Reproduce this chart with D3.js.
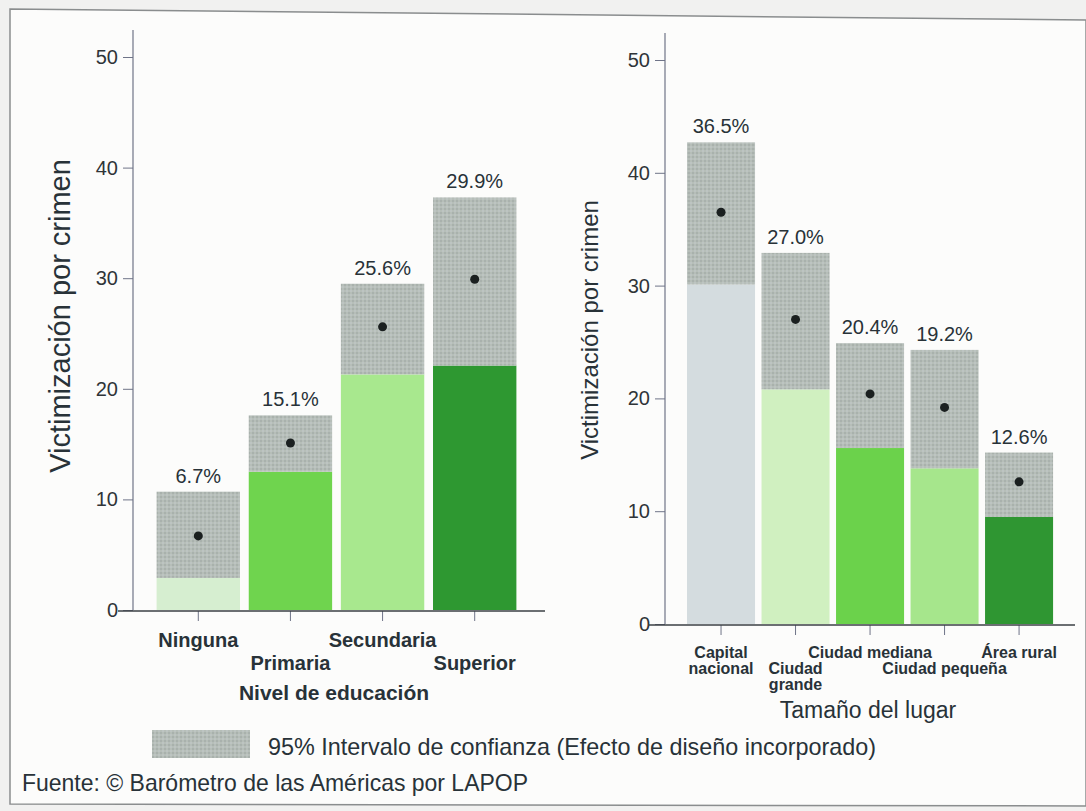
<html><head>
<title>Victimización por crimen</title>
<script src="https://d3js.org/d3.v7.min.js"></script>
<style>
  body { margin: 0; background: #f1f1f0; }
  text { font-family: "Liberation Sans", Arial, sans-serif; fill: #283238; }
  .narrow { font-family: "Liberation Sans Narrow", "Arial Narrow", "Liberation Sans", sans-serif; }
  .axis path, .axis line { stroke: #6f7488; }
  .axis text { font-size: 20px; fill: #2f3438; }
</style>
</head>
<body>
<svg id="chart" width="1086" height="811"></svg>
<script>
  // ---- data ----
  const yTicks = [0, 10, 20, 30, 40, 50];

  const eduCats  = ["Ninguna", "Primaria", "Secundaria", "Superior"];
  const eduMean  = [6.7, 15.1, 25.6, 29.9];
  const eduLow   = [2.9, 12.5, 21.3, 22.1];
  const eduHigh  = [10.7, 17.6, 29.5, 37.3];
  const eduColors = ["#d6eed0", "#6fd44e", "#a8e88e", "#2e9831"];

  const placeCats  = ["Capital nacional", "Ciudad grande", "Ciudad mediana", "Ciudad pequeña", "Área rural"];
  const placeMean  = [36.5, 27.0, 20.4, 19.2, 12.6];
  const placeLow   = [30.1, 20.8, 15.6, 13.8, 9.5];
  const placeHigh  = [42.7, 32.9, 24.9, 24.3, 15.2];
  const placeColors = ["#d4dcdf", "#d0f0c0", "#6bd24b", "#a6e68c", "#2f9632"];

  const svg = d3.select("svg#chart");

  // hatched grey used for the confidence interval
  const defs = svg.append("defs");
  const pat = defs.append("pattern").attr("id", "ci")
      .attr("width", 4).attr("height", 4).attr("patternUnits", "userSpaceOnUse");
  pat.append("rect").attr("width", 4).attr("height", 4).attr("fill", "#b6beb8");
  pat.append("rect").attr("width", 2).attr("height", 2).attr("fill", "#a9b1ad");
  pat.append("rect").attr("x", 2).attr("y", 2).attr("width", 2).attr("height", 2).attr("fill", "#bdc4c2");

  // page frame (scan is a bit tilted)
  svg.append("path")
    .attr("d", "M1086,20 L10,9 L10,804 L1086,806 Z")
    .attr("fill", "#fcfcfb")
    .attr("stroke", "#8a8d8e").attr("stroke-width", 1.5);

  const drawPanel = (cfg) => {
    const y = d3.scaleLinear().domain([0, 50]).range([cfg.y0, cfg.y50]);
    const x = d3.scaleBand().domain(cfg.cats).range(cfg.xRange)
        .paddingInner(cfg.padIn).paddingOuter(cfg.padOut);

    const g = svg.append("g");

    // y axis
    const yAxis = d3.axisLeft(y).tickValues(yTicks).tickSize(10).tickPadding(5).tickSizeOuter(0);
    g.append("g").attr("class", "axis")
      .attr("transform", "translate(" + cfg.axisX + ",0)")
      .call(yAxis)
      .call(a => a.select(".domain").remove());
    g.append("line")
      .attr("x1", cfg.axisX).attr("x2", cfg.axisX)
      .attr("y1", cfg.y0).attr("y2", cfg.axisTop)
      .attr("stroke", "#6f7488").attr("stroke-width", 1.2);

    // bars: coloured lower part, hatched CI on top
    cfg.cats.forEach((c, i) => {
      g.append("rect")
        .attr("x", x(c)).attr("width", x.bandwidth())
        .attr("y", y(cfg.low[i])).attr("height", y(0) - y(cfg.low[i]))
        .attr("fill", cfg.colors[i]);
      g.append("rect")
        .attr("x", x(c)).attr("width", x.bandwidth())
        .attr("y", y(cfg.high[i])).attr("height", y(cfg.low[i]) - y(cfg.high[i]))
        .attr("fill", "url(#ci)");
      g.append("circle")
        .attr("cx", x(c) + x.bandwidth() / 2).attr("cy", y(cfg.mean[i]))
        .attr("r", 4.5).attr("fill", "#1b2020");
      g.append("text")
        .attr("x", x(c) + x.bandwidth() / 2).attr("y", y(cfg.high[i]) - 9)
        .attr("text-anchor", "middle").attr("font-size", 20)
        .text(cfg.mean[i].toFixed(1) + "%");
    });

    // x axis
    const xAxis = d3.axisBottom(x).tickSize(10).tickFormat("").tickSizeOuter(0);
    g.append("g").attr("class", "axis")
      .attr("transform", "translate(0," + (cfg.y0 + 1) + ")")
      .call(xAxis)
      .call(a => a.select(".domain").remove());
    g.append("line")
      .attr("x1", cfg.xLine[0]).attr("x2", cfg.xLine[1])
      .attr("y1", cfg.y0 + 1).attr("y2", cfg.y0 + 1)
      .attr("stroke", "#3b4145").attr("stroke-width", 1.3);

    // category labels, staggered
    cfg.cats.forEach((c, i) => {
      cfg.lines[i].forEach((ln, k) => {
        g.append("text")
          .attr("x", x(c) + x.bandwidth() / 2)
          .attr("y", cfg.labelY + (cfg.rows[i] + k) * cfg.rowH)
          .attr("text-anchor", "middle")
          .attr("font-size", cfg.catSize).attr("font-weight", "bold")
          .text(ln);
      });
    });

    // titles
    g.append("text")
      .attr("x", cfg.xTitle[0]).attr("y", cfg.xTitle[1])
      .attr("text-anchor", "middle").attr("font-size", cfg.xTitleSize)
      .attr("font-weight", cfg.xTitleWeight)
      .text(cfg.xTitleText);
    g.append("text")
      .attr("transform", "translate(" + cfg.yTitle[0] + "," + cfg.yTitle[1] + ") rotate(-90)")
      .attr("text-anchor", "middle").attr("font-size", cfg.yTitleSize)
      .text("Victimización por crimen");
  };

  drawPanel({
    cats: eduCats, mean: eduMean, low: eduLow, high: eduHigh, colors: eduColors,
    y0: 610, y50: 57, axisX: 133, axisTop: 30,
    xRange: [152, 521], padIn: 0.095, padOut: 0.05, xLine: [118, 545],
    lines: eduCats.map(d => [d]), rows: [0, 1, 0, 1],
    labelY: 647, rowH: 23, catSize: 20,
    xTitle: [334, 700], xTitleSize: 21, xTitleWeight: "bold", xTitleText: "Nivel de educación",
    yTitle: [70, 316], yTitleSize: 29
  });

  drawPanel({
    cats: placeCats, mean: placeMean, low: placeLow, high: placeHigh, colors: placeColors,
    y0: 624, y50: 60, axisX: 665, axisTop: 33,
    xRange: [683.3, 1056.8], padIn: 0.087, padOut: 0.05, xLine: [648, 1075],
    lines: [["Capital", "nacional"], ["Ciudad", "grande"], ["Ciudad mediana"], ["Ciudad pequeña"], ["Área rural"]],
    rows: [0, 1, 0, 1, 0],
    labelY: 658, rowH: 16, catSize: 16,
    xTitle: [868, 718], xTitleSize: 23, xTitleWeight: "normal", xTitleText: "Tamaño del lugar",
    yTitle: [598, 330], yTitleSize: 24
  });

  // legend
  svg.append("rect")
    .attr("x", 152).attr("y", 730).attr("width", 98).attr("height", 28)
    .attr("fill", "url(#ci)");
  svg.append("text").attr("class", "narrow")
    .attr("x", 268).attr("y", 755).attr("font-size", 24)
    .attr("textLength", 608).attr("lengthAdjust", "spacingAndGlyphs")
    .text("95% Intervalo de confianza (Efecto de diseño incorporado)");

  // source line
  svg.append("text").attr("class", "narrow")
    .attr("x", 22).attr("y", 791).attr("font-size", 24)
    .attr("textLength", 506).attr("lengthAdjust", "spacingAndGlyphs")
    .text("Fuente: © Barómetro de las Américas por LAPOP");
</script>
</body>
</html>
